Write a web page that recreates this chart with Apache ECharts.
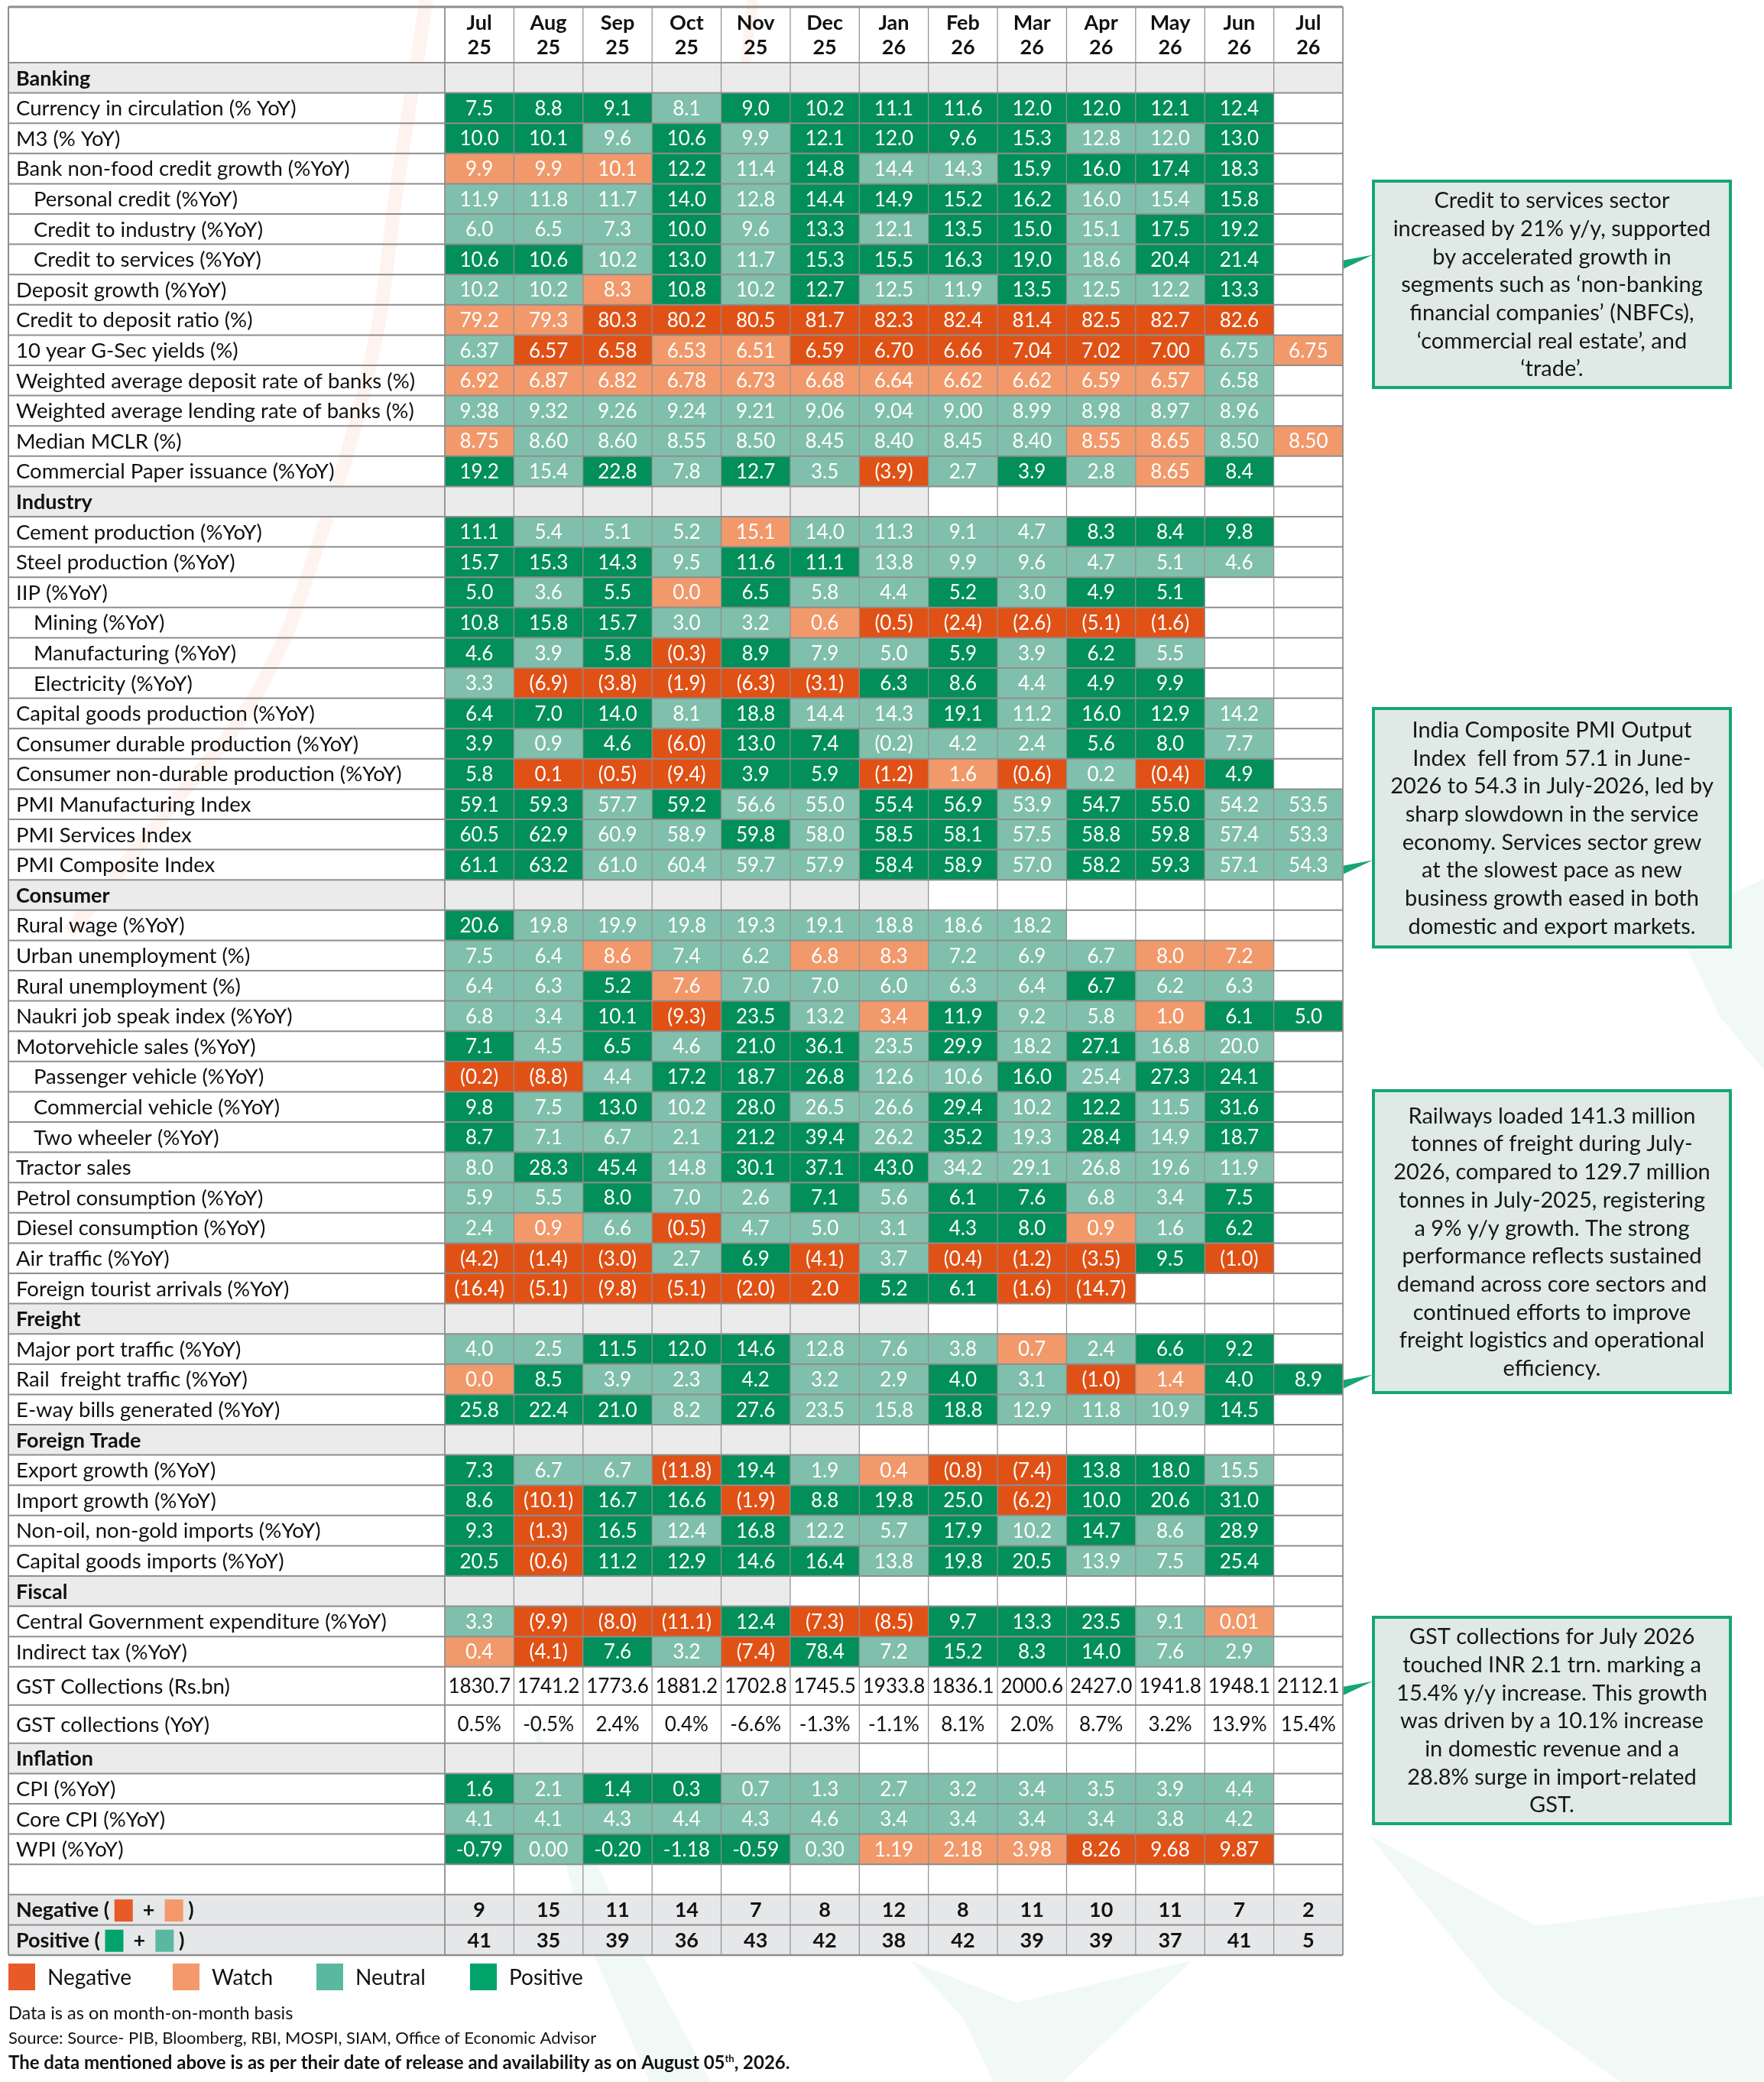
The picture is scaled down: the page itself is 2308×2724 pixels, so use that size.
<!DOCTYPE html>
<html>
<head>
<meta charset="utf-8">
<title>Economic indicators heatmap</title>
<script src="https://cdn.jsdelivr.net/npm/echarts@6/dist/echarts.min.js"></script>
<style>
html, body { margin: 0; padding: 0; background: #fff; }
#main { width: 2308px; height: 2724px; }
</style>
</head>
<body>
<div id="main"></div>
<script>
"use strict";

// 列头
var months = ['Jul\n25', 'Aug\n25', 'Sep\n25', 'Oct\n25', 'Nov\n25', 'Dec\n25', 'Jan\n26',
	'Feb\n26', 'Mar\n26', 'Apr\n26', 'May\n26', 'Jun\n26', 'Jul\n26'];

// 状态代码: P 正面, N 中性, W 观察, X 负面
var bankingLabels = ['Currency in circulation (% YoY)', 'M3 (% YoY)', 'Bank non-food credit growth (%YoY)',
	'Personal credit (%YoY)', 'Credit to industry (%YoY)', 'Credit to services (%YoY)', 'Deposit growth (%YoY)',
	'Credit to deposit ratio (%)', '10 year G-Sec yields (%)', 'Weighted average deposit rate of banks (%)',
	'Weighted average lending rate of banks (%)', 'Median MCLR (%)', 'Commercial Paper issuance (%YoY)'];
var bankingValues = [
	['7.5', '8.8', '9.1', '8.1', '9.0', '10.2', '11.1', '11.6', '12.0', '12.0', '12.1', '12.4'],
	['10.0', '10.1', '9.6', '10.6', '9.9', '12.1', '12.0', '9.6', '15.3', '12.8', '12.0', '13.0'],
	['9.9', '9.9', '10.1', '12.2', '11.4', '14.8', '14.4', '14.3', '15.9', '16.0', '17.4', '18.3'],
	['11.9', '11.8', '11.7', '14.0', '12.8', '14.4', '14.9', '15.2', '16.2', '16.0', '15.4', '15.8'],
	['6.0', '6.5', '7.3', '10.0', '9.6', '13.3', '12.1', '13.5', '15.0', '15.1', '17.5', '19.2'],
	['10.6', '10.6', '10.2', '13.0', '11.7', '15.3', '15.5', '16.3', '19.0', '18.6', '20.4', '21.4'],
	['10.2', '10.2', '8.3', '10.8', '10.2', '12.7', '12.5', '11.9', '13.5', '12.5', '12.2', '13.3'],
	['79.2', '79.3', '80.3', '80.2', '80.5', '81.7', '82.3', '82.4', '81.4', '82.5', '82.7', '82.6'],
	['6.37', '6.57', '6.58', '6.53', '6.51', '6.59', '6.70', '6.66', '7.04', '7.02', '7.00', '6.75', '6.75'],
	['6.92', '6.87', '6.82', '6.78', '6.73', '6.68', '6.64', '6.62', '6.62', '6.59', '6.57', '6.58'],
	['9.38', '9.32', '9.26', '9.24', '9.21', '9.06', '9.04', '9.00', '8.99', '8.98', '8.97', '8.96'],
	['8.75', '8.60', '8.60', '8.55', '8.50', '8.45', '8.40', '8.45', '8.40', '8.55', '8.65', '8.50', '8.50'],
	['19.2', '15.4', '22.8', '7.8', '12.7', '3.5', '(3.9)', '2.7', '3.9', '2.8', '8.65', '8.4']
];
var bankingStatus = ['PPPNPPPPPPPP', 'PPNPNPPPPNNP', 'WWWPNPNNPPPP', 'NNNPNPPPPNNP', 'NNNPNPNPPNPP',
	'PPNPNPPPPNPP', 'NNWPNPNNPNNP', 'WWXXXXXXXXXX', 'NXXWWXXXXXXNW', 'WWWWWWWWWWWN',
	'NNNNNNNNNNNN', 'WNNNNNNNNWWNW', 'PNPNPNXNPNWP'];

var industryLabels = ['Cement production (%YoY)', 'Steel production (%YoY)', 'IIP (%YoY)', 'Mining (%YoY)',
	'Manufacturing (%YoY)', 'Electricity (%YoY)', 'Capital goods production (%YoY)',
	'Consumer durable production (%YoY)', 'Consumer non-durable production (%YoY)', 'PMI Manufacturing Index',
	'PMI Services Index', 'PMI Composite Index'];
var industryValues = [
	['11.1', '5.4', '5.1', '5.2', '15.1', '14.0', '11.3', '9.1', '4.7', '8.3', '8.4', '9.8'],
	['15.7', '15.3', '14.3', '9.5', '11.6', '11.1', '13.8', '9.9', '9.6', '4.7', '5.1', '4.6'],
	['5.0', '3.6', '5.5', '0.0', '6.5', '5.8', '4.4', '5.2', '3.0', '4.9', '5.1'],
	['10.8', '15.8', '15.7', '3.0', '3.2', '0.6', '(0.5)', '(2.4)', '(2.6)', '(5.1)', '(1.6)'],
	['4.6', '3.9', '5.8', '(0.3)', '8.9', '7.9', '5.0', '5.9', '3.9', '6.2', '5.5'],
	['3.3', '(6.9)', '(3.8)', '(1.9)', '(6.3)', '(3.1)', '6.3', '8.6', '4.4', '4.9', '9.9'],
	['6.4', '7.0', '14.0', '8.1', '18.8', '14.4', '14.3', '19.1', '11.2', '16.0', '12.9', '14.2'],
	['3.9', '0.9', '4.6', '(6.0)', '13.0', '7.4', '(0.2)', '4.2', '2.4', '5.6', '8.0', '7.7'],
	['5.8', '0.1', '(0.5)', '(9.4)', '3.9', '5.9', '(1.2)', '1.6', '(0.6)', '0.2', '(0.4)', '4.9'],
	['59.1', '59.3', '57.7', '59.2', '56.6', '55.0', '55.4', '56.9', '53.9', '54.7', '55.0', '54.2', '53.5'],
	['60.5', '62.9', '60.9', '58.9', '59.8', '58.0', '58.5', '58.1', '57.5', '58.8', '59.8', '57.4', '53.3'],
	['61.1', '63.2', '61.0', '60.4', '59.7', '57.9', '58.4', '58.9', '57.0', '58.2', '59.3', '57.1', '54.3']
];
var industryStatus = ['PNNNWNNNNPPP', 'PPPNPPNNNNNN', 'PNPWPNNPNPP', 'PPPNNWXXXXX', 'PNPXPNNPNPN',
	'NXXXXXPPNPP', 'PPPNPNNPNPPN', 'PNPXPPNNNPPN', 'PXXXPPXWXNXP', 'PPNPNNPPNPPNN',
	'PPNNPNPPNPPNN', 'PPNNNNPPNPPNN'];

var consumerLabels = ['Rural wage (%YoY)', 'Urban unemployment (%)', 'Rural unemployment (%)',
	'Naukri job speak index (%YoY)', 'Motorvehicle sales (%YoY)', 'Passenger vehicle (%YoY)',
	'Commercial vehicle (%YoY)', 'Two wheeler (%YoY)', 'Tractor sales', 'Petrol consumption (%YoY)',
	'Diesel consumption (%YoY)', 'Air traffic (%YoY)', 'Foreign tourist arrivals (%YoY)'];
var consumerValues = [
	['20.6', '19.8', '19.9', '19.8', '19.3', '19.1', '18.8', '18.6', '18.2'],
	['7.5', '6.4', '8.6', '7.4', '6.2', '6.8', '8.3', '7.2', '6.9', '6.7', '8.0', '7.2'],
	['6.4', '6.3', '5.2', '7.6', '7.0', '7.0', '6.0', '6.3', '6.4', '6.7', '6.2', '6.3'],
	['6.8', '3.4', '10.1', '(9.3)', '23.5', '13.2', '3.4', '11.9', '9.2', '5.8', '1.0', '6.1', '5.0'],
	['7.1', '4.5', '6.5', '4.6', '21.0', '36.1', '23.5', '29.9', '18.2', '27.1', '16.8', '20.0'],
	['(0.2)', '(8.8)', '4.4', '17.2', '18.7', '26.8', '12.6', '10.6', '16.0', '25.4', '27.3', '24.1'],
	['9.8', '7.5', '13.0', '10.2', '28.0', '26.5', '26.6', '29.4', '10.2', '12.2', '11.5', '31.6'],
	['8.7', '7.1', '6.7', '2.1', '21.2', '39.4', '26.2', '35.2', '19.3', '28.4', '14.9', '18.7'],
	['8.0', '28.3', '45.4', '14.8', '30.1', '37.1', '43.0', '34.2', '29.1', '26.8', '19.6', '11.9'],
	['5.9', '5.5', '8.0', '7.0', '2.6', '7.1', '5.6', '6.1', '7.6', '6.8', '3.4', '7.5'],
	['2.4', '0.9', '6.6', '(0.5)', '4.7', '5.0', '3.1', '4.3', '8.0', '0.9', '1.6', '6.2'],
	['(4.2)', '(1.4)', '(3.0)', '2.7', '6.9', '(4.1)', '3.7', '(0.4)', '(1.2)', '(3.5)', '9.5', '(1.0)'],
	['(16.4)', '(5.1)', '(9.8)', '(5.1)', '(2.0)', '2.0', '5.2', '6.1', '(1.6)', '(14.7)']
];
var consumerStatus = ['PNNNNNNNN', 'NNWNNWWNNNWW', 'NNPWNNNNNPNN', 'NNPXPNWPNNWPP', 'PNPNPPNPNPNN',
	'XXNPPPNNPNPP', 'PNPNPNNPNPNP', 'PNNNPPNPNPNP', 'NPPNPPPNNNNN', 'NNPNNPNPPNNP',
	'NWNXNNNPPWNP', 'XXXNPXNXXXPX', 'XXXXXXPPXX'];

var freightLabels = ['Major port traffic (%YoY)', 'Rail  freight traffic (%YoY)', 'E-way bills generated (%YoY)'];
var freightValues = [
	['4.0', '2.5', '11.5', '12.0', '14.6', '12.8', '7.6', '3.8', '0.7', '2.4', '6.6', '9.2'],
	['0.0', '8.5', '3.9', '2.3', '4.2', '3.2', '2.9', '4.0', '3.1', '(1.0)', '1.4', '4.0', '8.9'],
	['25.8', '22.4', '21.0', '8.2', '27.6', '23.5', '15.8', '18.8', '12.9', '11.8', '10.9', '14.5']
];
var freightStatus = ['NNPPPNNNWNPP', 'WPNNPNNPNXWPP', 'PPPNPNNPNNNP'];

var tradeLabels = ['Export growth (%YoY)', 'Import growth (%YoY)', 'Non-oil, non-gold imports (%YoY)',
	'Capital goods imports (%YoY)'];
var tradeValues = [
	['7.3', '6.7', '6.7', '(11.8)', '19.4', '1.9', '0.4', '(0.8)', '(7.4)', '13.8', '18.0', '15.5'],
	['8.6', '(10.1)', '16.7', '16.6', '(1.9)', '8.8', '19.8', '25.0', '(6.2)', '10.0', '20.6', '31.0'],
	['9.3', '(1.3)', '16.5', '12.4', '16.8', '12.2', '5.7', '17.9', '10.2', '14.7', '8.6', '28.9'],
	['20.5', '(0.6)', '11.2', '12.9', '14.6', '16.4', '13.8', '19.8', '20.5', '13.9', '7.5', '25.4']
];
var tradeStatus = ['PNNXPNWXXPPN', 'PXPPXPPPXPPP', 'PXPNPNNPNPNP', 'PXPPPPNPPNNP'];

var fiscalLabels = ['Central Government expenditure (%YoY)', 'Indirect tax (%YoY)'];
var fiscalValues = [
	['3.3', '(9.9)', '(8.0)', '(11.1)', '12.4', '(7.3)', '(8.5)', '9.7', '13.3', '23.5', '9.1', '0.01'],
	['0.4', '(4.1)', '7.6', '3.2', '(7.4)', '78.4', '7.2', '15.2', '8.3', '14.0', '7.6', '2.9']
];
var fiscalStatus = ['NXXXPXXPPPNW', 'WXPNXPNPPPNN'];

var gstLabels = ['GST Collections (Rs.bn)', 'GST collections (YoY)'];
var gstValues = [
	['1830.7', '1741.2', '1773.6', '1881.2', '1702.8', '1745.5', '1933.8', '1836.1', '2000.6', '2427.0', '1941.8', '1948.1', '2112.1'],
	['0.5%', '-0.5%', '2.4%', '0.4%', '-6.6%', '-1.3%', '-1.1%', '8.1%', '2.0%', '8.7%', '3.2%', '13.9%', '15.4%']
];

var inflationLabels = ['CPI (%YoY)', 'Core CPI (%YoY)', 'WPI (%YoY)'];
var inflationValues = [
	['1.6', '2.1', '1.4', '0.3', '0.7', '1.3', '2.7', '3.2', '3.4', '3.5', '3.9', '4.4'],
	['4.1', '4.1', '4.3', '4.4', '4.3', '4.6', '3.4', '3.4', '3.4', '3.4', '3.8', '4.2'],
	['-0.79', '0.00', '-0.20', '-1.18', '-0.59', '0.30', '1.19', '2.18', '3.98', '8.26', '9.68', '9.87']
];
var inflationStatus = ['PNPPNNNNNNNN', 'NNNNNNNNNNNN', 'PNPPPNWWWXXX'];

var negativeCounts = [9, 15, 11, 14, 7, 8, 12, 8, 11, 10, 11, 7, 2];
var positiveCounts = [41, 35, 39, 36, 43, 42, 38, 42, 39, 39, 37, 41, 5];

var indentedLabels = ['Personal credit (%YoY)', 'Credit to industry (%YoY)', 'Credit to services (%YoY)',
	'Mining (%YoY)', 'Manufacturing (%YoY)', 'Electricity (%YoY)', 'Passenger vehicle (%YoY)',
	'Commercial vehicle (%YoY)', 'Two wheeler (%YoY)'];

var legendNames = ['Negative', 'Watch', 'Neutral', 'Positive'];

var note1Lines = ['Credit to services sector', 'increased by 21% y/y, supported', 'by accelerated growth in',
	'segments such as \u2018non-banking', 'financial companies\u2019 (NBFCs),', '\u2018commercial real estate\u2019, and',
	'\u2018trade\u2019.'];
var note2Lines = ['India Composite PMI Output', 'Index  fell from 57.1 in June-', '2026 to 54.3 in July-2026, led by',
	'sharp slowdown in the service', 'economy. Services sector grew', 'at the slowest pace as new',
	'business growth eased in both', 'domestic and export markets.'];
var note3Lines = ['Railways loaded 141.3 million', 'tonnes of freight during July-', '2026, compared to 129.7 million',
	'tonnes in July-2025, registering', 'a 9% y/y growth. The strong', 'performance reflects sustained',
	'demand across core sectors and', 'continued efforts to improve', 'freight logistics and operational',
	'efficiency.'];
var note4Lines = ['GST collections for July 2026', 'touched INR 2.1 trn. marking a', '15.4% y/y increase. This growth',
	'was driven by a 10.1% increase', 'in domestic revenue and a', '28.8% surge in import-related', 'GST.'];

// ---------- 样式 ----------
var FONT = 'Lato, "Noto Sans", sans-serif';
var statusColor = { P: '#028f5a', N: '#80bfab', W: '#f1996b', X: '#e05116' };
var legendColor = ['#e85a27', '#f4996b', '#5bb8a0', '#00a46a'];
var sectionGray = { 'Banking': 13, 'Industry': 7, 'Consumer': 7, 'Freight': 7, 'Foreign Trade': 6, 'Fiscal': 5, 'Inflation': 6 };
var GRAY = '#ebebeb';
var COUNT_GRAY = '#e6e7e9';
var LINE = '#8e8e8e';
var NCOL = 13;
var TABLE_LEFT = 11, TABLE_TOP = 9, LABEL_W = 571, TABLE_RIGHT = 1757;
var COL_W = (TABLE_RIGHT - TABLE_LEFT - LABEL_W) / NCOL;
var LABEL_COLS = LABEL_W / COL_W;
var ROW_H = 39.6, HEAD_H = 73, GST_H = 50;

// ---------- 行 ----------
var rows = [{ kind: 'header', h: HEAD_H }];
function pushSection(name, labels, values, status) {
	rows.push({ kind: 'section', h: ROW_H, name: name });
	labels.forEach(function (lab, i) {
		rows.push({ kind: 'data', h: ROW_H, label: lab, values: values[i], status: status[i] });
	});
}
pushSection('Banking', bankingLabels, bankingValues, bankingStatus);
pushSection('Industry', industryLabels, industryValues, industryStatus);
pushSection('Consumer', consumerLabels, consumerValues, consumerStatus);
pushSection('Freight', freightLabels, freightValues, freightStatus);
pushSection('Foreign Trade', tradeLabels, tradeValues, tradeStatus);
pushSection('Fiscal', fiscalLabels, fiscalValues, fiscalStatus);
gstLabels.forEach(function (lab, i) {
	rows.push({ kind: 'plain', h: GST_H, label: lab, values: gstValues[i] });
});
pushSection('Inflation', inflationLabels, inflationValues, inflationStatus);
rows.push({ kind: 'blank', h: ROW_H });
rows.push({ kind: 'count', h: ROW_H, label: 'Negative', values: negativeCounts, swatch: [legendColor[0], legendColor[1]] });
rows.push({ kind: 'count', h: ROW_H, label: 'Positive', values: positiveCounts, swatch: [legendColor[3], legendColor[2]] });

var rowTop = [];
var totalH = 0;
rows.forEach(function (r) { rowTop.push(totalH); totalH += r.h; });

// ---------- 单元格 ----------
var cells = [];
function addCell(x0, x1, ri, o) {
	o.box = [x0, rowTop[ri], x1, rowTop[ri] + rows[ri].h];
	cells.push(o);
}
rows.forEach(function (r, ri) {
	if (r.kind === 'header') {
		months.forEach(function (m, c) {
			addCell(c, c + 1, ri, { text: m, color: '#111', font: 'bold 27px ' + FONT, lineHeight: 32 });
		});
		return;
	}
	if (r.kind === 'section') {
		addCell(-LABEL_COLS, 0, ri, { fill: GRAY, text: r.name, color: '#111', font: 'bold 27px ' + FONT, align: 'left', pad: 10 });
		for (var c = 0; c < sectionGray[r.name]; c++) addCell(c, c + 1, ri, { fill: GRAY });
		return;
	}
	if (r.kind === 'data' || r.kind === 'plain') {
		var indent = indentedLabels.indexOf(r.label) >= 0 ? 33 : 10;
		addCell(-LABEL_COLS, 0, ri, { text: r.label, color: '#111', font: '27.5px ' + FONT, align: 'left', pad: indent });
		r.values.forEach(function (v, c) {
			if (r.kind === 'data') {
				addCell(c, c + 1, ri, { fill: statusColor[r.status[c]], text: v, color: '#fff', font: '26px ' + FONT });
			} else {
				addCell(c, c + 1, ri, { text: v, color: '#111', font: '26px ' + FONT });
			}
		});
		return;
	}
	if (r.kind === 'count') {
		addCell(-LABEL_COLS, 0, ri, {
			fill: COUNT_GRAY, align: 'left', pad: 10,
			text: '{t|' + r.label + ' ( }{a| }{t|  +  }{b| }{t| )}',
			rich: {
				t: { font: 'bold 27px ' + FONT, fill: '#111' },
				a: { backgroundColor: r.swatch[0], width: 24, height: 29 },
				b: { backgroundColor: r.swatch[1], width: 24, height: 29 }
			}
		});
		r.values.forEach(function (v, c) {
			addCell(c, c + 1, ri, { fill: COUNT_GRAY, text: String(v), color: '#111', font: 'bold 27px ' + FONT });
		});
	}
});

// ---------- 表格线 ----------
var lines = [];
rows.forEach(function (r, ri) {
	if (ri > 0) lines.push({ box: [-LABEL_COLS, rowTop[ri], NCOL, rowTop[ri]], w: 2 });
});
lines.push({ box: [-LABEL_COLS, 0, NCOL, 0], w: 3 });
lines.push({ box: [-LABEL_COLS, totalH, NCOL, totalH], w: 2.5 });
lines.push({ box: [-LABEL_COLS, 0, -LABEL_COLS, totalH], w: 2 });
for (var c = 0; c <= NCOL; c++) lines.push({ box: [c, 0, c, totalH], w: c === 0 || c === NCOL ? 1.8 : 1.2 });

function renderCell(params, api) {
	var c = cells[params.dataIndex];
	var a = api.coord([api.value(0), api.value(1)]);
	var b = api.coord([api.value(2), api.value(3)]);
	var kids = [];
	if (c.fill) {
		kids.push({ type: 'rect', shape: { x: a[0], y: a[1], width: b[0] - a[0], height: b[1] - a[1] }, style: { fill: c.fill } });
	}
	if (c.text) {
		var left = c.align === 'left';
		kids.push({
			type: 'text',
			style: {
				text: c.text, x: left ? a[0] + c.pad : (a[0] + b[0]) / 2, y: (a[1] + b[1]) / 2 + 1,
				align: left ? 'left' : 'center', verticalAlign: 'middle',
				fill: c.color || '#111', font: c.font, lineHeight: c.lineHeight, rich: c.rich
			}
		});
	}
	return { type: 'group', children: kids };
}

function renderLine(params, api) {
	var a = api.coord([api.value(0), api.value(1)]);
	var b = api.coord([api.value(2), api.value(3)]);
	return {
		type: 'line',
		shape: { x1: a[0], y1: a[1], x2: b[0], y2: b[1] },
		style: { stroke: LINE, lineWidth: lines[params.dataIndex].w }
	};
}

// ---------- 背景水印 ----------
var graphics = [];
var ORANGE_WM = 'rgba(242,140,90,0.10)';
var GREEN_WM = 'rgba(20,150,100,0.06)';
graphics.push({ type: 'polyline', z: 0, shape: { points: [[558, 0], [520, 240], [488, 460], [420, 700], [340, 900], [220, 1060], [90, 1220]], smooth: 0.4 }, style: { stroke: ORANGE_WM, lineWidth: 18, fill: null } });
graphics.push({ type: 'polyline', z: 0, shape: { points: [[985, 0], [960, 230], [942, 460], [915, 620]], smooth: 0.4 }, style: { stroke: ORANGE_WM, lineWidth: 14, fill: null } });
graphics.push({ type: 'polygon', z: 0, shape: { points: [[690, 2230], [760, 2520], [850, 2724], [930, 2724], [800, 2480]] }, style: { fill: GREEN_WM } });
graphics.push({ type: 'polygon', z: 0, shape: { points: [[1190, 2565], [1330, 2620], [1560, 2565], [1390, 2724], [1300, 2724], [1260, 2640]] }, style: { fill: GREEN_WM } });
graphics.push({ type: 'polygon', z: 0, shape: { points: [[2190, 1205], [2308, 1150], [2308, 1400], [2250, 1330]] }, style: { fill: GREEN_WM } });
graphics.push({ type: 'polygon', z: 0, shape: { points: [[1790, 2400], [2010, 2520], [2308, 2480], [2308, 2724], [2120, 2724], [1960, 2610]] }, style: { fill: GREEN_WM } });

// ---------- 注释框 ----------
function addNote(noteLines, top, height, pointRow) {
	var x = 1797, w = 467;
	graphics.push({
		type: 'rect', z: 5, shape: { x: x, y: top, width: w, height: height },
		style: { fill: '#dfeae6', stroke: '#17a673', lineWidth: 4 }
	});
	graphics.push({
		type: 'text', z: 6,
		style: {
			text: noteLines.join('\n'), x: x + w / 2, y: top + height / 2 + 1,
			align: 'center', verticalAlign: 'middle', font: '29px ' + FONT, fill: '#161616', lineHeight: 36.7
		}
	});
	var cy = TABLE_TOP + rowTop[pointRow] + rows[pointRow].h / 2;
	graphics.push({
		type: 'polygon', z: 5,
		shape: { points: [[TABLE_RIGHT + 1, cy + 1], [TABLE_RIGHT + 1, cy + 12], [x - 1, cy - 6]] },
		style: { fill: '#17a673' }
	});
}
function rowIndexOf(label) {
	for (var i = 0; i < rows.length; i++) if (rows[i].label === label) return i;
	return 0;
}
addNote(note1Lines, 237, 270, rowIndexOf('Credit to services (%YoY)'));
addNote(note2Lines, 927, 312, rowIndexOf('PMI Composite Index'));
addNote(note3Lines, 1427, 395, rowIndexOf('Rail  freight traffic (%YoY)'));
addNote(note4Lines, 2116, 270, rowIndexOf('GST Collections (Rs.bn)'));

// 图例
var legendX = [11, 226, 414, 615];
legendNames.forEach(function (n, i) {
	graphics.push({ type: 'rect', z: 5, shape: { x: legendX[i], y: 2569, width: 35, height: 35 }, style: { fill: legendColor[i] } });
	graphics.push({
		type: 'text', z: 6,
		style: { text: n, x: legendX[i] + 51, y: 2588, verticalAlign: 'middle', font: '28px ' + FONT, fill: '#111' }
	});
});

// 脚注
graphics.push({ type: 'text', z: 6, style: { text: 'Data is as on month-on-month basis', x: 11, y: 2634, verticalAlign: 'middle', font: '23.5px ' + FONT, fill: '#111' } });
graphics.push({ type: 'text', z: 6, style: { text: 'Source: Source- PIB, Bloomberg, RBI, MOSPI, SIAM, Office of Economic Advisor', x: 11, y: 2667, verticalAlign: 'middle', font: '22px ' + FONT, fill: '#111' } });
graphics.push({
	type: 'text', z: 6,
	style: {
		text: '{m|The data mentioned above is as per their date of release and availability as on August 05}{s|th}{m|, 2026.}',
		x: 11, y: 2699, verticalAlign: 'middle',
		rich: {
			m: { font: 'bold 24px ' + FONT, fill: '#111' },
			s: { font: 'bold 13px ' + FONT, fill: '#111', verticalAlign: 'top', padding: [0, 0, 10, 0] }
		}
	}
});

// ---------- 图表 ----------
var chart = echarts.init(document.getElementById('main'), null, { renderer: 'canvas' });
var option = {
	backgroundColor: '#ffffff',
	animation: false,
	grid: { left: TABLE_LEFT, top: TABLE_TOP, width: TABLE_RIGHT - TABLE_LEFT, height: totalH },
	xAxis: { type: 'value', min: -LABEL_COLS, max: NCOL, show: false },
	yAxis: { type: 'value', min: 0, max: totalH, inverse: true, show: false },
	graphic: graphics,
	series: [{
		type: 'custom',
		clip: false,
		renderItem: renderCell,
		data: cells.map(function (c) { return c.box; }),
		silent: true,
		z: 2
	}, {
		type: 'custom',
		clip: false,
		renderItem: renderLine,
		data: lines.map(function (l) { return l.box; }),
		silent: true,
		z: 3
	}]
};
chart.setOption(option);
</script>
</body>
</html>
